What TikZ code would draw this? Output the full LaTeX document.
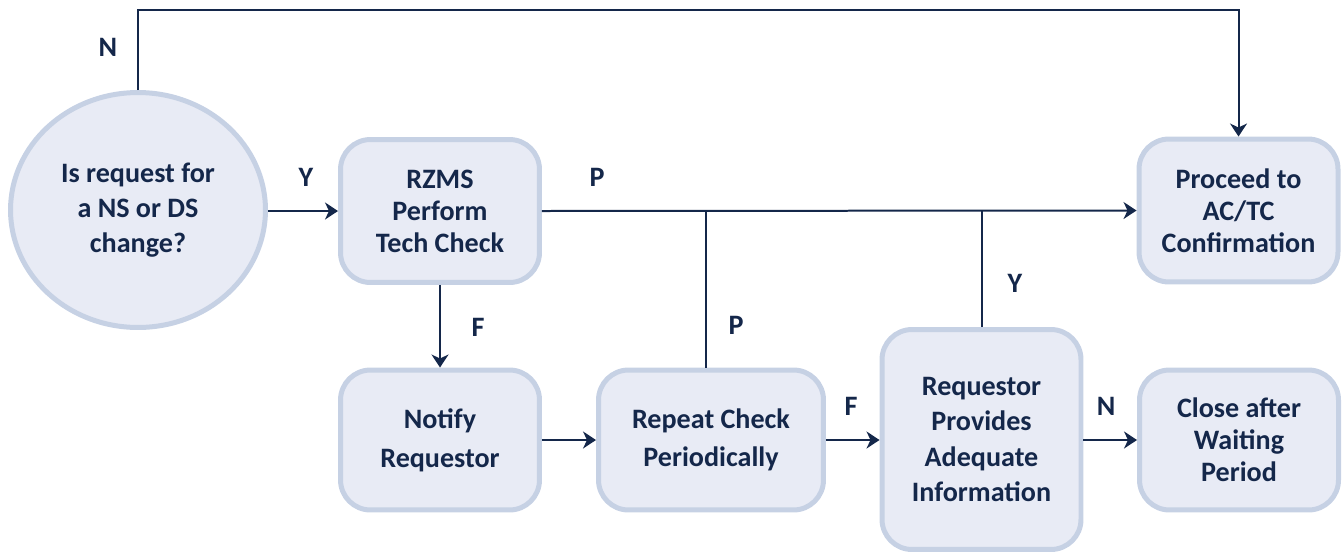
\documentclass[tikz,border=0pt]{standalone}
\usepackage{fontspec}
\setmainfont{Carlito}
\usetikzlibrary{arrows.meta, shapes.geometric}

\definecolor{boxfill}{HTML}{E8EBF5}
\definecolor{boxline}{HTML}{C6D1E4}
\definecolor{navy}{HTML}{14274A}

\tikzset{
    stepbox/.style={draw=boxline, fill=boxfill, line width=0.1cm, rounded corners=0.6cm,
        align=center, text=navy, inner sep=0pt, minimum width=3.98cm, minimum height=2.8cm},
    choice/.style={ellipse, draw=boxline, fill=boxfill, line width=0.1cm,
        align=center, text=navy, inner sep=0pt, minimum width=5.1cm, minimum height=4.7cm},
    flow/.style={draw=navy, line width=0.04cm},
    tip/.style={-{Stealth[length=0.26cm, width=0.34cm, inset=0.08cm]}},
    lbl/.style={text=navy},
    tight/.style={font=\fontsize{16}{18.2}\selectfont\bfseries},
    loose/.style={font=\fontsize{16}{22}\selectfont\bfseries}
}

\begin{document}
\begin{tikzpicture}[x=0.02cm, y=-0.02cm, font=\fontsize{16}{20}\selectfont\bfseries]
    \useasboundingbox (0,0) rectangle (1344,555);

    % Top row
    \node[choice] (Q) at (138,210) {Is request for\\a NS or DS\\change?};
    \node[stepbox, tight, minimum height=2.86cm] (RZMS) at (440,211) {RZMS\\Perform\\Tech Check};
    \node[stepbox, tight, minimum height=2.86cm] (AC) at (1238.5,210.5) {Proceed to\\AC/TC\\Confirmation};

    % Bottom row
    \node[stepbox, loose] (Notify) at (440,440) {Notify\\Requestor};
    \node[stepbox, loose, minimum width=4.5cm] (Repeat) at (711,440) {Repeat Check\\Periodically};
    \node[stepbox, minimum height=4.4cm] (Info) at (981.5,439.5) {Requestor\\Provides\\Adequate\\Information};
    \node[stepbox, tight] (Close) at (1239,440) {Close after\\Waiting\\Period};

    \coordinate (top) at (0,10);

    % Connectors
    \draw[flow, tip] (Q.north) -- (Q.north |- top) -| (AC.north);
    \draw[flow, tip] (Q.east |- RZMS.west) -- (RZMS.west);
    \draw[flow, tip] (RZMS.east) -- (AC.west);
    \draw[flow] ([xshift=-0.1cm]Repeat.north) -- ([xshift=-0.1cm]Repeat.north |- RZMS.east);
    \draw[flow] (Info.north) -- (Info.north |- RZMS.east);
    \draw[flow, tip] (RZMS.south) -- (Notify.north);
    \draw[flow, tip] (Notify.east) -- (Repeat.west);
    \draw[flow, tip] (Repeat.east) -- (Repeat.east -| Info.west);
    \draw[flow, tip] (Info.east |- Close.west) -- (Close.west);

    % Branch labels
    \node[lbl] at (108,47) {N};
    \node[lbl] at (306,177) {Y};
    \node[lbl] at (597,177) {P};
    \node[lbl] at (478,327) {F};
    \node[lbl] at (736,325) {P};
    \node[lbl] at (1015,283) {Y};
    \node[lbl] at (851,406) {F};
    \node[lbl] at (1106,406) {N};
\end{tikzpicture}
\end{document}
